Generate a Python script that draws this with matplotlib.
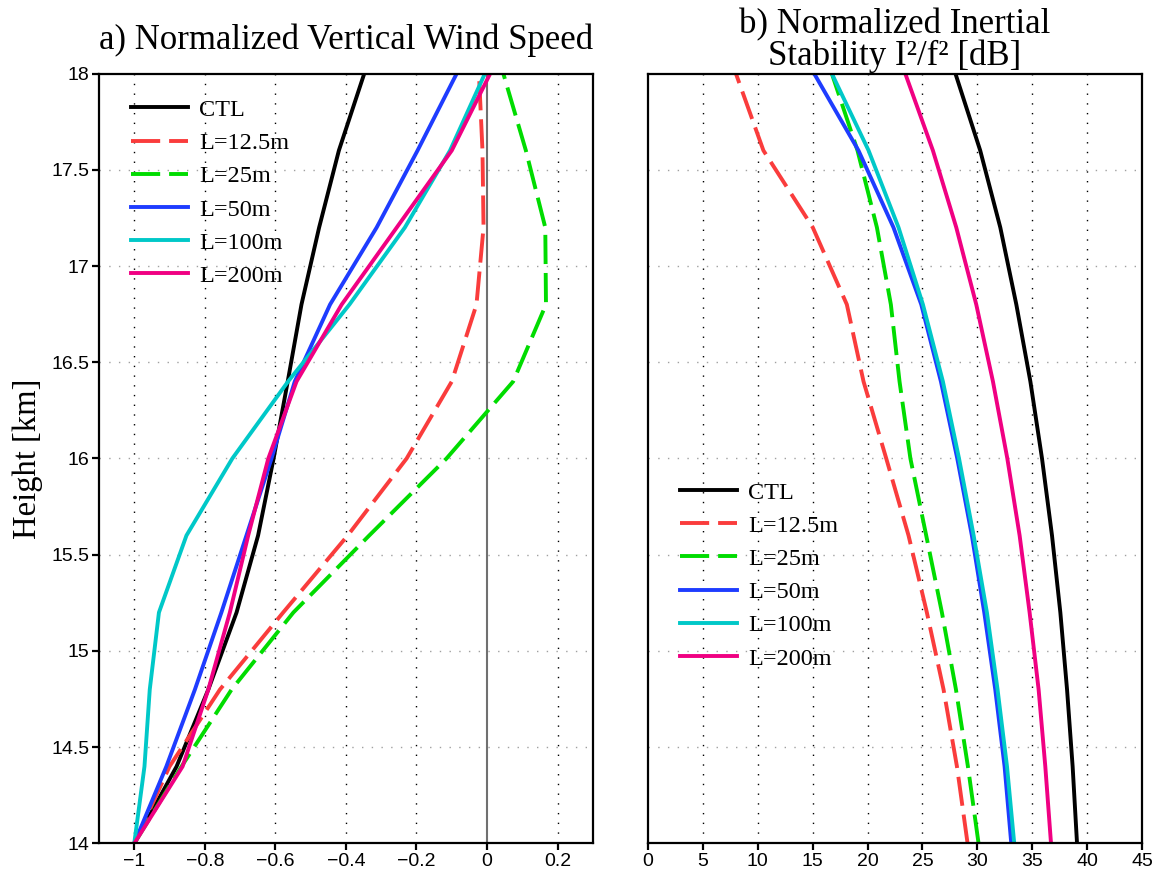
import numpy as np
import matplotlib
matplotlib.use('Agg')
import matplotlib.pyplot as plt
from matplotlib.ticker import FixedLocator, FuncFormatter

# heights of the profile points [km]
height = [14.0, 14.4, 14.8, 15.2, 15.6, 16.0, 16.4, 16.8, 17.2, 17.6, 18.0]

names = ['CTL', 'L=12.5m', 'L=25m', 'L=50m', 'L=100m', 'L=200m']
colors = ['#000000', '#FA3C3C', '#00DC00', '#1E3CFF', '#00C8C8', '#F00082']
dashed = [False, True, True, False, False, False]

# a) normalized vertical wind speed
w_ctl = [-1.0, -0.88, -0.79, -0.71, -0.649, -0.605, -0.565, -0.526, -0.476, -0.42, -0.348]
w_125 = [-1.0, -0.90, -0.757, -0.578, -0.395, -0.228, -0.10, -0.03, -0.01, -0.013, -0.023]
w_25 = [-1.0, -0.866, -0.724, -0.549, -0.334, -0.115, 0.074, 0.167, 0.165, 0.11, 0.046]
w_50 = [-1.0, -0.909, -0.828, -0.753, -0.682, -0.611, -0.545, -0.445, -0.313, -0.197, -0.086]
w_100 = [-1.0, -0.971, -0.956, -0.93, -0.852, -0.722, -0.564, -0.39, -0.233, -0.105, -0.006]
w_200 = [-1.0, -0.863, -0.79, -0.729, -0.677, -0.62, -0.54, -0.412, -0.256, -0.10, 0.009]

# b) normalized inertial stability [dB]
i_ctl = [39.08, 38.68, 38.17, 37.56, 36.8, 35.89, 34.83, 33.55, 32.09, 30.26, 28.0]
i_125 = [29.11, 28.14, 26.92, 25.4, 23.73, 21.7, 19.63, 18.11, 15.01, 10.51, 8.0]
i_25 = [30.11, 29.14, 28.05, 26.77, 25.34, 23.9, 22.91, 22.12, 20.85, 19.08, 16.74]
i_50 = [33.09, 32.48, 31.63, 30.63, 29.5, 28.17, 26.68, 24.89, 22.36, 19.17, 15.13]
i_100 = [33.36, 32.7, 31.84, 30.87, 29.66, 28.33, 26.86, 25.04, 22.82, 20.09, 16.74]
i_200 = [36.71, 36.19, 35.58, 34.76, 33.85, 32.73, 31.42, 29.9, 28.08, 25.95, 23.43]

w_all = [w_ctl, w_125, w_25, w_50, w_100, w_200]
i_all = [i_ctl, i_125, i_25, i_50, i_100, i_200]

w_ticks = [-1, -0.8, -0.6, -0.4, -0.2, 0, 0.2]
i_ticks = [0, 5, 10, 15, 20, 25, 30, 35, 40, 45]
h_ticks = [14, 14.5, 15, 15.5, 16, 16.5, 17, 17.5, 18]

serif = 'Liberation Serif'
sans = 'Liberation Sans'

fig = plt.figure(figsize=(11.56, 8.72), dpi=100)
ax1 = fig.add_axes([0.0856, 0.0327, 0.4273, 0.883])
ax2 = fig.add_axes([0.5606, 0.0327, 0.4273, 0.883])


def fmt(v, pos):
    s = ('%g' % v)
    return s.replace('-', '\u2212')


def style(ax, xticks, gridx):
    ax.set_ylim(14, 18)
    for sp in ax.spines.values():
        sp.set_linewidth(1.6)
    ax.xaxis.set_major_locator(FixedLocator(xticks))
    ax.xaxis.set_major_formatter(FuncFormatter(fmt))
    ax.yaxis.set_major_locator(FixedLocator(h_ticks))
    ax.yaxis.set_major_formatter(FuncFormatter(fmt))
    ax.tick_params(direction='out', length=5, width=1.6, labelsize=14, pad=2)
    for lab in ax.get_xticklabels() + ax.get_yticklabels():
        lab.set_family(sans)
    for x in gridx:
        ax.axvline(x, color='black', lw=1.0, ls=(0, (1, 6)), zorder=0)
    for y in h_ticks[1:-1]:
        ax.axhline(y, color='#A0A0A0', lw=1.0, ls=(0, (1, 6)), zorder=0)


def draw(ax, data):
    for vals, name, c, d in zip(data, names, colors, dashed):
        if d:
            ax.plot(vals, height, color=c, lw=2.8, label=name,
                    dashes=(7.5, 2.3), solid_capstyle='round')
        else:
            ax.plot(vals, height, color=c, lw=2.8, label=name)


leg_kw = dict(frameon=False, prop={'family': serif, 'size': 17.5},
              handlelength=2.35, handletextpad=0.45, labelspacing=0.46,
              borderpad=0, borderaxespad=0, loc='upper left')

# panel a
style(ax1, w_ticks, [-1, -0.8, -0.6, -0.4, -0.2, 0.2])
ax1.set_xlim(-1.1, 0.3)
ax1.axvline(0, color='#707070', lw=1.5, zorder=1)
draw(ax1, w_all)
ax1.set_title('a) Normalized Vertical Wind Speed', family=serif,
              fontsize=25, pad=18)
ax1.set_ylabel('Height [km]', family=serif, fontsize=23.5, labelpad=6)
ax1.legend(bbox_to_anchor=(0.065, 0.967), **leg_kw)

# panel b
style(ax2, i_ticks, i_ticks[1:-1])
ax2.set_xlim(0, 45)
ax2.tick_params(axis='y', left=False, labelleft=False)
draw(ax2, i_all)
ax2.set_title('b) Normalized Inertial\nStability I\u00b2/f\u00b2 [dB]',
              family=serif, fontsize=25, pad=6, linespacing=0.95)
ax2.legend(bbox_to_anchor=(0.065, 0.47), **leg_kw)

fig.savefig('out.png', dpi=100)
